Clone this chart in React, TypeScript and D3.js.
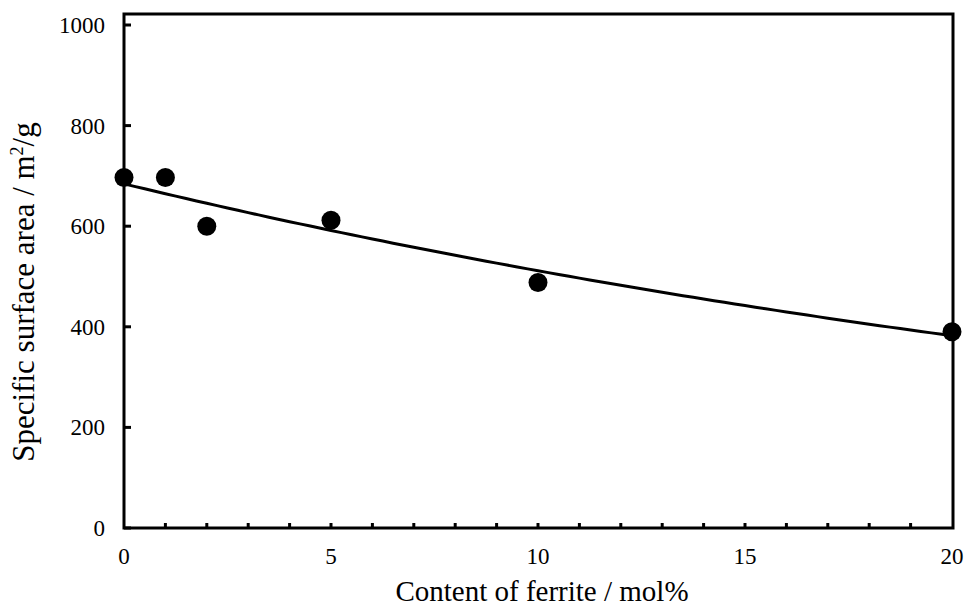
import React from "react";
import * as d3 from "d3";

// Ferrite content (mol%) and measured specific surface area (m²/g)
const ferriteContent = [0, 1, 2, 5, 10, 20];
const surfaceArea = [697, 697, 600, 612, 488, 390];
const xTicks = [0, 5, 10, 15, 20];
const yTicks = [0, 200, 400, 600, 800, 1000];

const W = 967;
const H = 607;
const M = { left: 124, right: 953, top: 14, bottom: 528 };

export default function App() {
  const x = d3.scaleLinear().domain([0, 20]).range([M.left, 952]);
  const y = d3.scaleLinear().domain([0, 1000]).range([M.bottom, 25]);

  // Exponential least-squares fit: ln(y) = a + b x
  const lnY = surfaceArea.map((v) => Math.log(v));
  const mx = d3.mean(ferriteContent)!;
  const my = d3.mean(lnY)!;
  const sxy = d3.sum(ferriteContent, (v, i) => (v - mx) * (lnY[i] - my));
  const sxx = d3.sum(ferriteContent, (v) => (v - mx) ** 2);
  const b = sxy / sxx;
  const a = my - b * mx;
  const fitX = d3.range(0, 20.001, 0.25);
  const line = d3
    .line<number>()
    .x((v) => x(v))
    .y((v) => y(Math.exp(a + b * v)))
    .curve(d3.curveMonotoneX);

  const minorX = d3.range(1, 20);
  const font = "'Liberation Serif', 'Times New Roman', serif";

  return (
    <svg width={W} height={H} style={{ position: "absolute", left: 0, top: 0 }}>
      <rect x={0} y={0} width={W} height={H} fill="#fff" />
      {/* minor x ticks, inward */}
      {minorX.map((t) => (
        <line key={"mx" + t} x1={x(t)} x2={x(t)} y1={M.bottom} y2={M.bottom - 5} stroke="#000" strokeWidth={3} />
      ))}
      {/* y ticks, inward */}
      {yTicks.map((t) => (
        <line key={"yt" + t} x1={M.left} x2={M.left + 7} y1={y(t)} y2={y(t)} stroke="#000" strokeWidth={3} />
      ))}
      {/* frame */}
      <rect
        x={M.left}
        y={M.top}
        width={M.right - M.left}
        height={M.bottom - M.top}
        fill="none"
        stroke="#000"
        strokeWidth={3}
      />
      {/* fitted curve */}
      <path d={line(fitX) || ""} fill="none" stroke="#000" strokeWidth={3} />
      {/* data points */}
      {ferriteContent.map((v, i) => (
        <circle key={"p" + i} cx={x(v)} cy={y(surfaceArea[i])} r={9.5} fill="#000" />
      ))}
      {/* tick labels */}
      {xTicks.map((t) => (
        <text key={"xl" + t} x={x(t)} y={564} textAnchor="middle" fontFamily={font} fontSize={23} fill="#000">
          {t}
        </text>
      ))}
      {yTicks.map((t) => (
        <text key={"yl" + t} x={105} y={y(t) + 8} textAnchor="end" fontFamily={font} fontSize={23} fill="#000">
          {t}
        </text>
      ))}
      {/* axis titles */}
      <text x={542} y={601} textAnchor="middle" fontFamily={font} fontSize={29} fill="#000">
        Content of ferrite / mol%
      </text>
      <text
        transform={`translate(34, 292) rotate(-90)`}
        textAnchor="middle"
        fontFamily={font}
        fontSize={31}
        fill="#000"
      >
        Specific surface area / m<tspan dy={-11} fontSize={18}>2</tspan>
        <tspan dy={11}>/g</tspan>
      </text>
    </svg>
  );
}
